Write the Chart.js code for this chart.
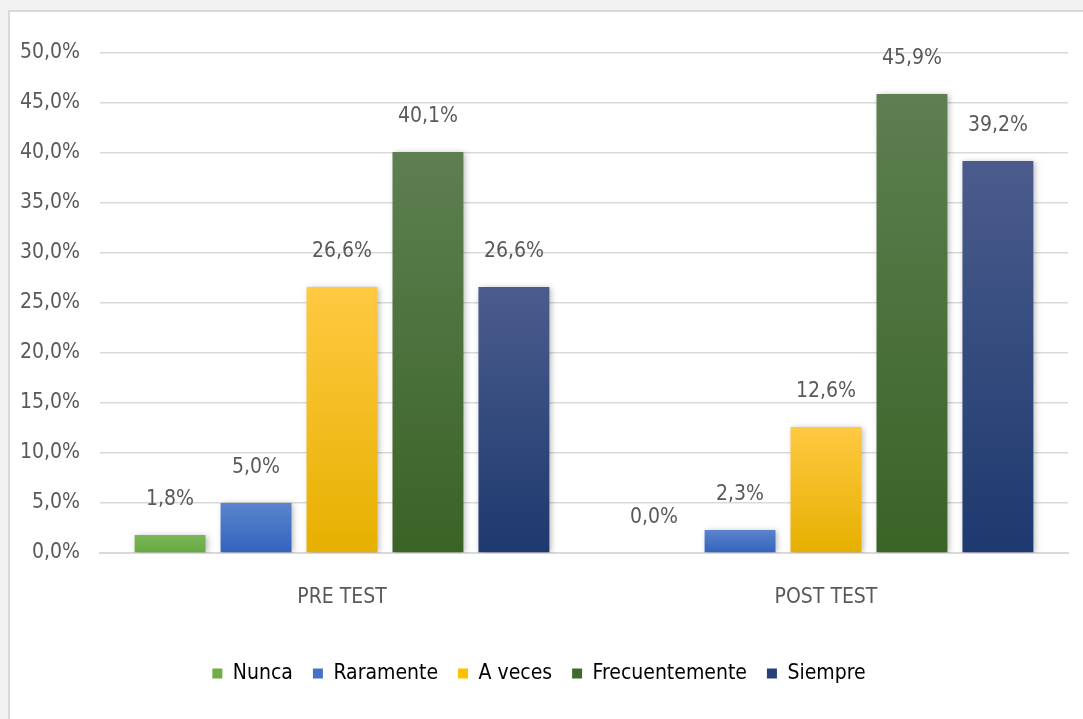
<!DOCTYPE html>
<html>
<head>
<meta charset="utf-8">
<script src="https://cdn.jsdelivr.net/npm/chart.js@4.4.1/dist/chart.umd.min.js"></script>
<style>
  html, body { margin: 0; padding: 0; }
  body { width: 1083px; height: 719px; background: #f2f2f2; overflow: hidden; position: relative; }
  #frame { position: absolute; left: 8px; top: 10px; width: 1075px; height: 709px; background: #fff;
           border-left: 2px solid #d9d9d9; border-top: 2px solid #d9d9d9; box-sizing: border-box; }
  #wrap { position: absolute; left: 0; top: 0; width: 1073px; height: 707px; }
</style>
</head>
<body>
<div id="frame"><div id="wrap"><canvas id="chart"></canvas></div></div>
<script>
const categories = ["PRE TEST", "POST TEST"];
const seriesNames = ["Nunca", "Raramente", "A veces", "Frecuentemente", "Siempre"];
const nunca = [1.8, 0.0];
const raramente = [5.0, 2.3];
const aVeces = [26.6, 12.6];
const frecuentemente = [40.1, 45.9];
const siempre = [26.6, 39.2];
const yTicks = [0, 5, 10, 15, 20, 25, 30, 35, 40, 45, 50];

const FONT = "'Liberation Sans Narrow', 'DejaVu Sans Condensed', 'Open Sans', sans-serif";
const TEXT = "#595959";

// top / bottom shades for each series, plus the flat legend colour
const shades = [
  { top: "#7ab858", bottom: "#68a843", solid: "#70ad47" },
  { top: "#5b84cd", bottom: "#3363bd", solid: "#4472c4" },
  { top: "#ffc942", bottom: "#e6b000", solid: "#ffc000" },
  { top: "#5e7f51", bottom: "#3a6326", solid: "#3f6a2a" },
  { top: "#4b5c8c", bottom: "#1d396f", solid: "#26407a" }
];

function barFill(i) {
  return function (ctx) {
    const chart = ctx.chart;
    if (!chart.chartArea || ctx.raw === undefined) return shades[i].solid;
    const y = chart.scales.y;
    const top = y.getPixelForValue(ctx.raw);
    const bottom = y.getPixelForValue(0);
    if (bottom - top < 1) return shades[i].solid;
    const g = chart.ctx.createLinearGradient(0, top, 0, bottom);
    g.addColorStop(0, shades[i].top);
    g.addColorStop(1, shades[i].bottom);
    return g;
  };
}

const values = [nunca, raramente, aVeces, frecuentemente, siempre];

const barShadow = {
  id: "barShadow",
  beforeDatasetDraw(chart) {
    const c = chart.ctx;
    c.save();
    c.shadowColor = "rgba(0,0,0,0.28)";
    c.shadowBlur = 6;
    c.shadowOffsetX = 2;
    c.shadowOffsetY = 1;
  },
  afterDatasetDraw(chart) {
    chart.ctx.restore();
  }
};

const valueLabels = {
  id: "valueLabels",
  afterDatasetsDraw(chart) {
    const c = chart.ctx;
    c.save();
    c.font = "21px " + FONT;
    c.fillStyle = TEXT;
    c.textAlign = "center";
    c.textBaseline = "middle";
    chart.data.datasets.forEach((ds, di) => {
      const meta = chart.getDatasetMeta(di);
      meta.data.forEach((bar, idx) => {
        const v = ds.data[idx];
        c.fillText(v.toFixed(1).replace(".", ",") + "%", bar.x, bar.y - 35);
      });
    });
    c.restore();
  }
};

new Chart(document.getElementById("chart"), {
  type: "bar",
  data: {
    labels: categories,
    datasets: seriesNames.map((name, i) => ({
      label: name,
      data: values[i],
      backgroundColor: barFill(i),
      borderWidth: 0,
      categoryPercentage: 0.888,
      barPercentage: 0.825
    }))
  },
  options: {
    responsive: true,
    maintainAspectRatio: false,
    animation: false,
    layout: { padding: { left: 0, right: 15, top: 41, bottom: 25 } },
    plugins: {
      tooltip: { enabled: false },
      legend: {
        position: "bottom",
        labels: {
          color: TEXT,
          font: { family: FONT, size: 21 },
          boxWidth: 10,
          boxHeight: 10,
          padding: 20,
          generateLabels(chart) {
            return seriesNames.map((name, i) => ({
              text: name,
              fillStyle: shades[i].solid,
              strokeStyle: shades[i].solid,
              lineWidth: 0,
              datasetIndex: i
            }));
          }
        }
      }
    },
    scales: {
      x: {
        grid: { display: false, drawTicks: false },
        border: { display: true, color: "#d9d9d9", width: 2 },
        ticks: { color: TEXT, font: { family: FONT, size: 21 }, padding: 32 },
        afterFit(scale) { scale.height = 90; }
      },
      y: {
        min: 0,
        max: 50,
        afterBuildTicks(scale) { scale.ticks = yTicks.map(v => ({ value: v })); },
        grid: { color: "#d9d9d9", lineWidth: 1.5, drawTicks: false },
        border: { display: false },
        ticks: {
          color: TEXT,
          font: { family: FONT, size: 21 },
          padding: 20,
          callback: v => v.toFixed(1).replace(".", ",") + "%"
        },
        afterFit(scale) { scale.width = 90; }
      }
    }
  },
  plugins: [barShadow, valueLabels]
});
</script>
</body>
</html>
